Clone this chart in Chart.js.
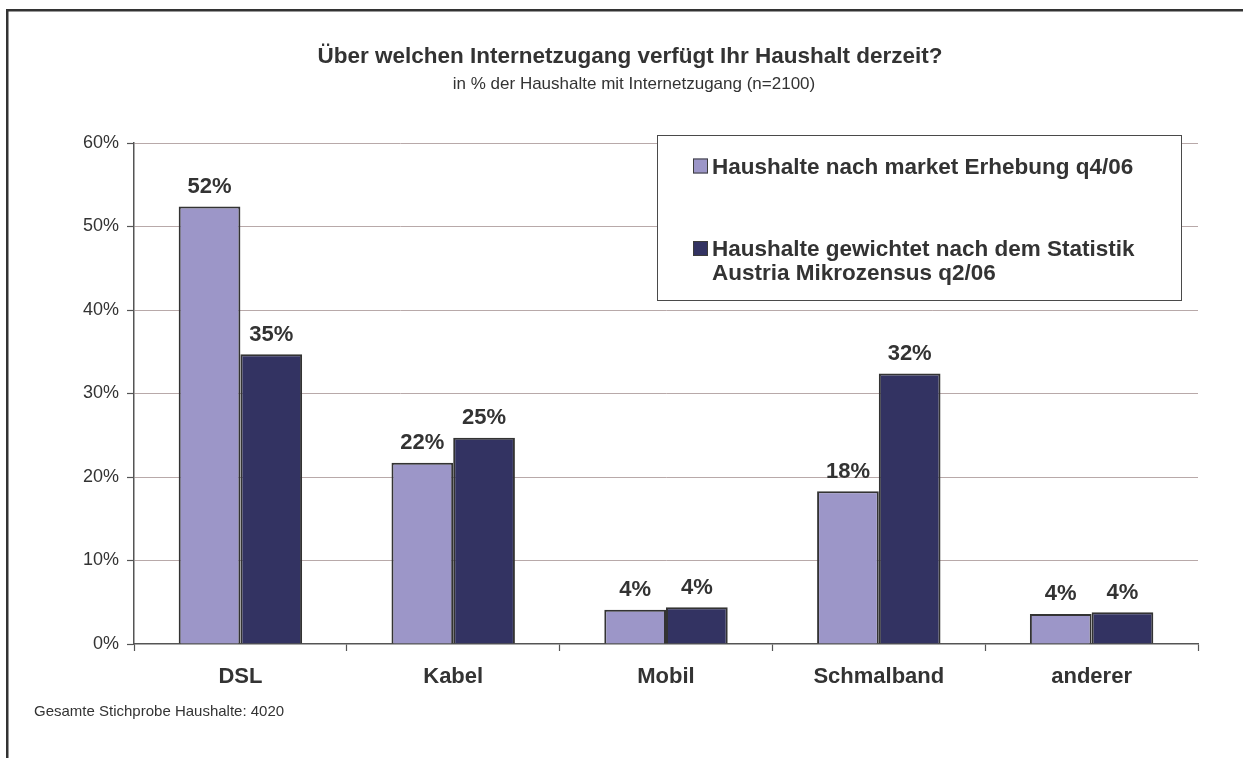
<!DOCTYPE html>
<html>
<head>
<meta charset="utf-8">
<script src="https://cdn.jsdelivr.net/npm/chart.js@4.4.1/dist/chart.umd.min.js"></script>
<style>
html,body{margin:0;padding:0;background:#ffffff;}
#wrap{position:relative;width:1243px;height:758px;}
</style>
</head>
<body>
<div id="wrap"><canvas id="c" width="1243" height="758"></canvas></div>
<script>
// ---- data ----
const titleText = 'Über welchen Internetzugang verfügt Ihr Haushalt derzeit?';
const subtitleText = 'in % der Haushalte mit Internetzugang (n=2100)';
const footnoteText = 'Gesamte Stichprobe Haushalte: 4020';
const categories = ['DSL', 'Kabel', 'Mobil', 'Schmalband', 'anderer'];
const seriesNames = ['Haushalte nach market Erhebung q4/06', 'Haushalte gewichtet nach dem Statistik Austria Mikrozensus q2/06'];
const legendLines = [['Haushalte nach market Erhebung q4/06'], ['Haushalte gewichtet nach dem Statistik', 'Austria Mikrozensus q2/06']];
const marketValues = [52.4, 21.7, 4.1, 18.3, 3.6];
const weightedValues = [34.7, 24.7, 4.4, 32.4, 3.8];
const yTickValues = [0, 10, 20, 30, 40, 50, 60];

// ---- style ----
const FONT = "'Liberation Sans', Arial, Helvetica, sans-serif";
const TEXT = '#333333';
const AXIS = '#555555';
const LIGHT = '#9c96c8';
const DARK = '#333362';

const decor = {
  id: 'decor',
  beforeDatasetsDraw(chart) {
    const ctx = chart.ctx;
    // legend box (covers gridlines)
    ctx.save();
    ctx.fillStyle = '#ffffff';
    ctx.fillRect(657, 135, 524, 165);
    ctx.strokeStyle = '#4a4a4a';
    ctx.lineWidth = 1;
    ctx.strokeRect(657.5, 135.5, 524, 165);
    const baselines = [[173.5], [256, 279.5]];
    ctx.font = 'bold 22.5px ' + FONT;
    ctx.textAlign = 'left';
    ctx.textBaseline = 'alphabetic';
    chart.data.datasets.forEach((ds, i) => {
      const b0 = baselines[i][0];
      ctx.fillStyle = ds.backgroundColor;
      ctx.fillRect(693, b0 - 15, 15, 15);
      ctx.strokeStyle = '#3c3c3c';
      ctx.lineWidth = 1;
      ctx.strokeRect(693.5, b0 - 14.5, 14, 14);
      ctx.fillStyle = TEXT;
      legendLines[i].forEach((line, j) => ctx.fillText(line, 712, baselines[i][j]));
    });
    ctx.restore();
  },
  afterDraw(chart) {
    const ctx = chart.ctx;
    ctx.save();
    // outer frame (left and top edges visible)
    ctx.fillStyle = '#333333';
    ctx.fillRect(6, 9, 2.5, 758);
    ctx.fillRect(6, 9, 1243, 2.5);
    // title + subtitle
    ctx.fillStyle = TEXT;
    ctx.textAlign = 'center';
    ctx.textBaseline = 'alphabetic';
    ctx.font = 'bold 22.5px ' + FONT;
    ctx.fillText(titleText, 630, 63);
    ctx.font = '17px ' + FONT;
    ctx.fillText(subtitleText, 634, 89);
    // footnote
    ctx.textAlign = 'left';
    ctx.font = '15px ' + FONT;
    ctx.fillText(footnoteText, 34, 716);
    // data labels
    ctx.textAlign = 'center';
    ctx.font = 'bold 22px ' + FONT;
    chart.data.datasets.forEach((ds, i) => {
      const meta = chart.getDatasetMeta(i);
      meta.data.forEach((bar, j) => {
        ctx.fillText(Math.round(ds.data[j]) + '%', bar.x, bar.y - 13.5);
      });
    });
    ctx.restore();
  }
};

new Chart(document.getElementById('c'), {
  type: 'bar',
  data: {
    labels: categories,
    datasets: [
      { label: seriesNames[0], data: marketValues, backgroundColor: LIGHT, borderColor: '#333333', borderWidth: 2, categoryPercentage: 0.58, barPercentage: 1 },
      { label: seriesNames[1], data: weightedValues, backgroundColor: DARK, borderColor: '#333333', borderWidth: 2, categoryPercentage: 0.58, barPercentage: 1 }
    ]
  },
  options: {
    responsive: false,
    devicePixelRatio: 1,
    animation: false,
    layout: { padding: { top: 143, left: 0, right: 45, bottom: 54 } },
    plugins: { legend: { display: false }, tooltip: { enabled: false }, title: { display: false } },
    scales: {
      y: {
        min: 0, max: 60,
        afterBuildTicks: s => { s.ticks = yTickValues.map(v => ({ value: v })); },
        afterFit: s => { s.width = 134; },
        ticks: { callback: v => v + '%', font: { family: FONT, size: 18 }, color: TEXT, padding: 8 },
        grid: {
          color: c => (c.tick && c.tick.value === 0) ? 'rgba(0,0,0,0)' : '#b8a9a9',
          lineWidth: 1, tickLength: 7, tickColor: AXIS, tickWidth: 1.2
        },
        border: { color: AXIS, width: 1.5 }
      },
      x: {
        afterFit: s => { s.height = 60; },
        ticks: { font: { family: FONT, size: 22, weight: 'bold' }, color: TEXT, padding: 12.5 },
        grid: { drawOnChartArea: false, offset: true, tickLength: 7, tickColor: AXIS, tickWidth: 1.2 },
        border: { color: AXIS, width: 1.5 }
      }
    }
  },
  plugins: [decor]
});
</script>
</body>
</html>
